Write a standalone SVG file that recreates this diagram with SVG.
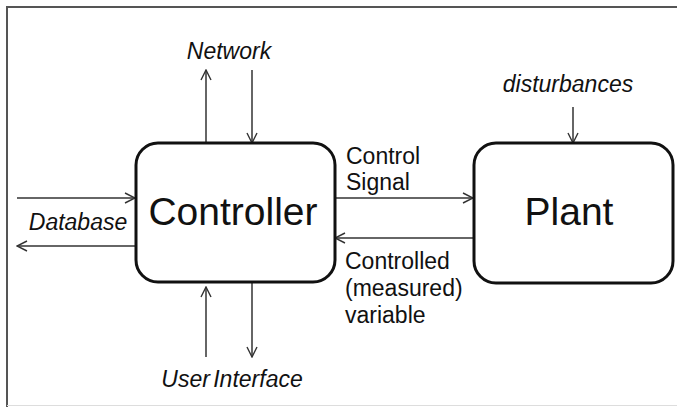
<svg xmlns="http://www.w3.org/2000/svg" width="677" height="407" viewBox="0 0 677 407">
  <style>
    .box { fill: #fff; stroke: #111; stroke-width: 3; }
    .big { font-family: "Liberation Sans", Arial, sans-serif; font-size: 39px; fill: #111; text-anchor: middle; }
    .lbl { font-family: "Liberation Sans", Arial, sans-serif; font-size: 23px; fill: #111; }
    .it { font-style: italic; }
    .wire { fill: none; stroke: #333; stroke-width: 1.5; marker-end: url(#open); }
  </style>
  <defs>
    <marker id="open" viewBox="0 0 12 12" refX="11" refY="6" markerWidth="12" markerHeight="12" markerUnits="userSpaceOnUse" orient="auto">
      <path d="M1,1 L11,6 L1,11" fill="none" stroke="#333" stroke-width="1.4"/>
    </marker>
  </defs>
  <rect width="677" height="407" fill="#fff"/>
  <!-- outer frame -->
  <path d="M7,407 L7,7 L677,7" fill="none" stroke="#555" stroke-width="2"/>
  <line x1="7" y1="405.5" x2="677" y2="405.5" stroke="#ddd" stroke-width="1"/>

  <g id="connectors">
    <line class="wire" x1="206" y1="143" x2="206" y2="70"/>
    <line class="wire" x1="252" y1="70" x2="252" y2="143"/>
    <line class="wire" x1="17" y1="198" x2="135" y2="198"/>
    <line class="wire" x1="135" y1="246" x2="17" y2="246"/>
    <line class="wire" x1="206" y1="357" x2="206" y2="287"/>
    <line class="wire" x1="252" y1="282" x2="252" y2="357"/>
    <line class="wire" x1="335" y1="198" x2="473" y2="198"/>
    <line class="wire" x1="473" y1="238" x2="335" y2="238"/>
    <line class="wire" x1="573" y1="107" x2="573" y2="143"/>
  </g>

  <g id="controller">
    <rect class="box" x="136" y="143" width="199" height="139" rx="22"/>
    <text class="big" x="233" y="225">Controller</text>
  </g>

  <g id="plant">
    <rect class="box" x="474" y="143" width="199" height="140" rx="22"/>
    <text class="big" x="569" y="225">Plant</text>
  </g>

  <g id="labels">
    <text class="lbl it" x="229" y="59" text-anchor="middle">Network</text>
    <text class="lbl it" x="568" y="92" text-anchor="middle">disturbances</text>
    <text class="lbl it" x="78" y="230" text-anchor="middle">Database</text>
    <text class="lbl it" x="232" y="387" text-anchor="middle" word-spacing="-3">User Interface</text>
    <text class="lbl" x="346" y="164">Control</text>
    <text class="lbl" x="346" y="190">Signal</text>
    <text class="lbl" x="345" y="269">Controlled</text>
    <text class="lbl" x="345" y="296">(measured)</text>
    <text class="lbl" x="345" y="323">variable</text>
  </g>
</svg>
